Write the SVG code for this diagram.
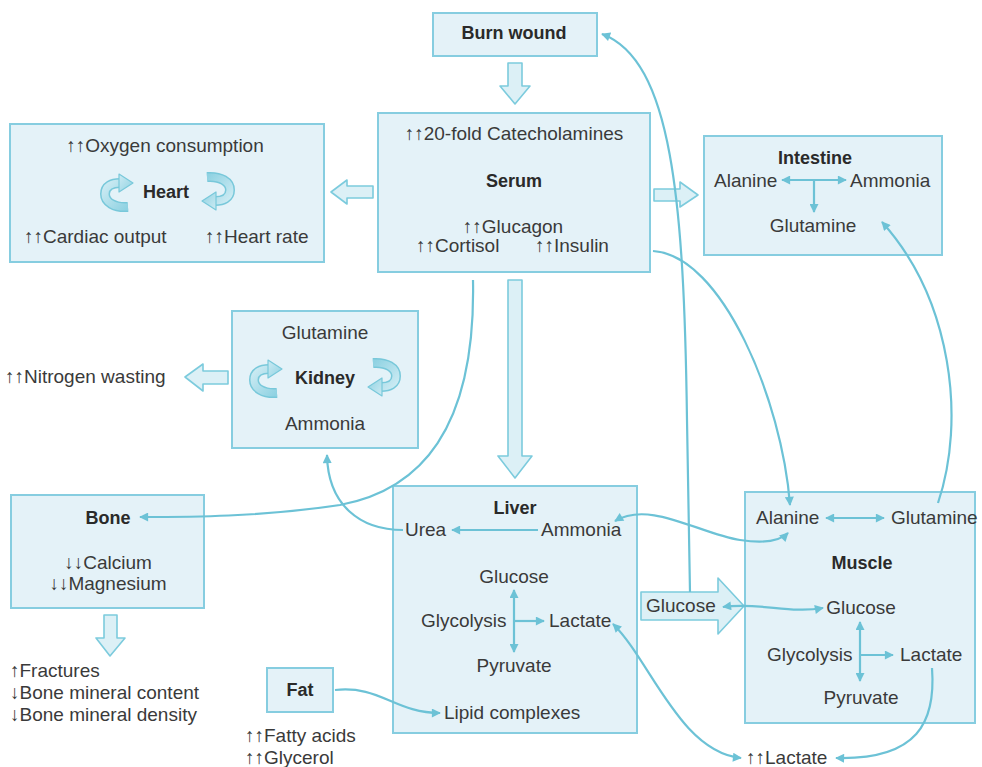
<svg xmlns="http://www.w3.org/2000/svg" width="982" height="767" viewBox="0 0 982 767">
<defs>
<style>
.box{fill:#e4f2f8;stroke:#86cde0;stroke-width:2}
.blk{fill:#dcf0f6;stroke:#7ccbdd;stroke-width:1.6;stroke-linejoin:round}
.ln{fill:none;stroke:#6cc2d6;stroke-width:2.2}
.t{font-family:"Liberation Sans",Arial,sans-serif;font-size:19px;fill:#3a3a3a}
.b{font-weight:bold;font-size:18px;fill:#2a2a2a}
.m{text-anchor:middle}
</style>
<marker id="ah" viewBox="0 0 10 10" refX="9" refY="5" markerWidth="10" markerHeight="9" markerUnits="userSpaceOnUse" orient="auto-start-reverse">
<path d="M0,0 L10,5 L0,10 z" fill="#6cc2d6"/>
</marker>
<linearGradient id="ig" x1="0" y1="0" x2="1" y2="1">
<stop offset="0" stop-color="#cdebf3"/>
<stop offset="1" stop-color="#8fd2e2"/>
</linearGradient>
<g id="icon">
<path d="M10 15 C-4 16 -13 10 -13 2 C-13 -6 -6 -9 2 -9" fill="none" stroke="#78c8da" stroke-width="10" stroke-linecap="butt"/>
<path d="M10 15 C-4 16 -13 10 -13 2 C-13 -6 -6 -9 2 -9" fill="none" stroke="url(#ig)" stroke-width="7"/>
<path d="M1 -18 L15 -9 L1 0 z" fill="url(#ig)" stroke="#78c8da" stroke-width="1.2" stroke-linejoin="round"/>
</g>
</defs>
<rect width="982" height="767" fill="#ffffff"/>

<g id="burn">
<rect class="box" x="433" y="13" width="164" height="43"/>
<text class="t b m" x="514" y="39">Burn wound</text>
</g>

<g id="serum">
<rect class="box" x="378" y="113" width="272" height="159"/>
<text class="t m" x="514" y="140">↑↑20-fold Catecholamines</text>
<text class="t b m" x="514" y="187">Serum</text>
<text class="t m" x="513" y="233">↑↑Glucagon</text>
<text class="t" x="416" y="252">↑↑Cortisol</text>
<text class="t" x="535" y="252">↑↑Insulin</text>
</g>

<g id="heart">
<rect class="box" x="10" y="124" width="314" height="138"/>
<text class="t m" x="165" y="152">↑↑Oxygen consumption</text>
<text class="t b m" x="166" y="198">Heart</text>
<use href="#icon" x="118" y="192"/>
<use href="#icon" transform="translate(217 192) rotate(180)"/>
<text class="t" x="24" y="243">↑↑Cardiac output</text>
<text class="t" x="205" y="243">↑↑Heart rate</text>
</g>

<g id="intestine">
<rect class="box" x="704" y="136" width="238" height="119"/>
<text class="t b m" x="815" y="164">Intestine</text>
<text class="t" x="714" y="187">Alanine</text>
<text class="t" x="850" y="187">Ammonia</text>
<text class="t m" x="813" y="232">Glutamine</text>
<line class="ln" x1="782" y1="180" x2="846" y2="180" marker-start="url(#ah)" marker-end="url(#ah)"/>
<line class="ln" x1="814" y1="180" x2="814" y2="212" marker-end="url(#ah)"/>
</g>

<g id="kidney">
<rect class="box" x="232" y="311" width="186" height="137"/>
<text class="t m" x="325" y="339">Glutamine</text>
<text class="t b m" x="325" y="384">Kidney</text>
<text class="t m" x="325" y="430">Ammonia</text>
<use href="#icon" x="267" y="378"/>
<use href="#icon" transform="translate(383 378) rotate(180)"/>
</g>

<g id="nitrogen">
<text class="t" x="5" y="383">↑↑Nitrogen wasting</text>
</g>

<g id="bone">
<rect class="box" x="11" y="495" width="193" height="113"/>
<text class="t b m" x="108" y="524">Bone</text>
<text class="t m" x="108" y="569">↓↓Calcium</text>
<text class="t m" x="108" y="590">↓↓Magnesium</text>
</g>

<g id="bone-effects">
<text class="t" x="10" y="677">↑Fractures</text>
<text class="t" x="10" y="699">↓Bone mineral content</text>
<text class="t" x="10" y="721">↓Bone mineral density</text>
</g>

<g id="fat">
<rect class="box" x="267" y="668" width="66" height="44"/>
<text class="t b m" x="300" y="696">Fat</text>
<text class="t" x="245" y="742">↑↑Fatty acids</text>
<text class="t" x="245" y="764">↑↑Glycerol</text>
</g>

<g id="liver">
<rect class="box" x="393" y="486" width="244" height="247"/>
<text class="t b m" x="515" y="514">Liver</text>
<text class="t" x="405" y="536">Urea</text>
<text class="t" x="541" y="536">Ammonia</text>
<text class="t m" x="514" y="583">Glucose</text>
<text class="t" x="421" y="627">Glycolysis</text>
<text class="t" x="549" y="627">Lactate</text>
<text class="t m" x="514" y="672">Pyruvate</text>
<text class="t" x="444" y="719">Lipid complexes</text>
<line class="ln" x1="538" y1="530" x2="452" y2="530" marker-end="url(#ah)"/>
<line class="ln" x1="514" y1="590" x2="514" y2="652" marker-start="url(#ah)" marker-end="url(#ah)"/>
<line class="ln" x1="514" y1="621" x2="544" y2="621" marker-end="url(#ah)"/>
</g>

<g id="muscle">
<rect class="box" x="745" y="492" width="230" height="231"/>
<text class="t" x="756" y="524">Alanine</text>
<text class="t" x="891" y="524">Glutamine</text>
<text class="t b m" x="862" y="569">Muscle</text>
<text class="t m" x="861" y="614">Glucose</text>
<text class="t" x="767" y="661">Glycolysis</text>
<text class="t" x="900" y="661">Lactate</text>
<text class="t m" x="861" y="704">Pyruvate</text>
<line class="ln" x1="826" y1="518" x2="884" y2="518" marker-start="url(#ah)" marker-end="url(#ah)"/>
<line class="ln" x1="860" y1="622" x2="860" y2="681" marker-start="url(#ah)" marker-end="url(#ah)"/>
<line class="ln" x1="860" y1="655" x2="893" y2="655" marker-end="url(#ah)"/>
</g>

<g id="lactate">
<text class="t" x="746" y="764">↑↑Lactate</text>
</g>

<g id="glucose-transfer">
<path class="blk" d="M641 592 L718 592 L718 578 L744 606 L718 634 L718 620 L641 620 z"/>
<text class="t" x="646" y="612">Glucose</text>
</g>

<g id="connectors">
<path class="blk" d="M508 63 L522 63 L522 86 L530 86 L515 104 L500 86 L508 86 z"/>
<path class="blk" d="M508 280 L522 280 L522 456 L532 456 L515 478 L498 456 L508 456 z"/>
<path class="blk" d="M373 186 L347 186 L347 180 L331 192 L347 204 L347 198 L373 198 z"/>
<path class="blk" d="M654 189 L680 189 L680 182 L698 195 L680 207 L680 201 L654 201 z"/>
<path class="blk" d="M228 371 L203 371 L203 364 L185 377 L203 391 L203 384 L228 384 z"/>
<path class="blk" d="M104 615 L117 615 L117 638 L125 638 L110 656 L96 638 L104 638 z"/>

<path class="ln" d="M690 592 L687 420 C684 200 672 60 602 34" marker-end="url(#ah)"/>
<path class="ln" d="M653 251 C722 255 782 400 790 505" marker-end="url(#ah)"/>
<path class="ln" d="M938 503 C966 420 952 300 882 222" marker-end="url(#ah)"/>
<path class="ln" d="M788 533 C778 543 760 543 740 540 C700 534 650 500 615 521" marker-start="url(#ah)" marker-end="url(#ah)"/>
<path class="ln" d="M473 280 C476 430 420 490 340 505 C260 517 190 517 140 517" marker-end="url(#ah)"/>
<path class="ln" d="M403 530 C360 530 328 505 327 455" marker-end="url(#ah)"/>
<path class="ln" d="M335 690 C380 685 395 713 440 713" marker-end="url(#ah)"/>
<path class="ln" d="M613 624 C650 660 680 752 741 758" marker-start="url(#ah)" marker-end="url(#ah)"/>
<path class="ln" d="M932 668 C936 722 918 760 836 758" marker-end="url(#ah)"/>
<path class="ln" d="M723 607 C760 602 790 614 823 608" marker-start="url(#ah)" marker-end="url(#ah)"/>
</g>
</svg>
